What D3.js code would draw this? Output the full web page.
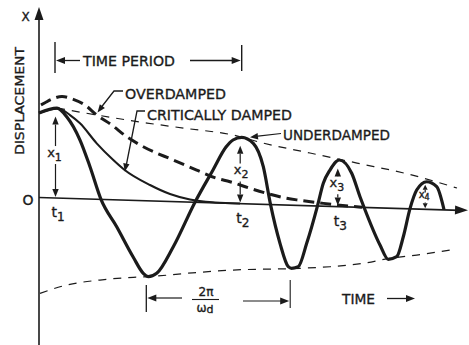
<!DOCTYPE html>
<html>
<head>
<meta charset="utf-8">
<script src="https://cdn.jsdelivr.net/npm/d3@7"></script>
<style>
  html, body { margin: 0; background: #fff; }
  svg { display: block; }
  text { font-family: "DejaVu Sans", "Liberation Sans", sans-serif; fill: #1b1b1b; stroke: #1b1b1b; stroke-width: 0.35; }
</style>
</head>
<body>
<script>
// ---- response curves: time (arbitrary units) and displacement ----
const underT = [0, 1.8, 2.77, 4.1, 5.1, 6.2, 7.77, 9.4, 10.43, 10.93, 11.77, 13.43, 15.6, 17.4, 18.7, 19.4, 20.27, 21.43, 22.43, 23.15, 24.1, 24.93, 25.27, 25.93, 26.77, 27.85, 28.43, 29.1, 30.03, 31.27, 32.1, 32.5, 34.1, 34.93, 35.77, 36.43, 37.1, 37.77, 38.77, 39.77, 40.5];
const underX = [8.45, 9.0, 8.16, 5.87, 3.23, 0, -2.69, -5.64, -7.27, -7.59, -7.23, -4.52, 0, 3.27, 5.6, 6.33, 6.63, 6.06, 3.75, 0, -3.86, -6.17, -6.32, -6.14, -3.78, 0, 2.27, 3.62, 4.65, 3.36, 1.04, 0, -3.73, -5.13, -4.85, -2.83, 0, 1.88, 2.74, 2.27, 0];

const critT = [0, 1.9, 3.1, 4.1, 5.77, 7.43, 8.5, 11.1, 13.1, 15.1, 17.6, 20.1];
const critX = [8.45, 8.96, 8.34, 7.54, 5.59, 3.97, 3.06, 1.58, 0.74, 0.25, 0.03, 0];

const overT = [0.2, 0.6, 1.27, 2.3, 3.43, 4.6, 5.77, 7.27, 8.77, 10.43, 13.43, 15.77, 17.77, 19.1, 21.1, 22.77, 24.77, 26.1, 28.1, 30.1, 32.3];
const overX = [9.26, 9.49, 9.86, 10.17, 9.92, 9.39, 8.42, 7.47, 6.34, 5.39, 4.15, 3.22, 2.45, 2.15, 1.55, 1.1, 0.66, 0.5, 0.3, 0.12, 0];

// decay envelopes
const upT = [1.8, 5.8, 10.8, 14.8, 19.4, 22.4, 27.1, 31.8, 37.1, 41.8];
const upX = [9.0, 8.42, 7.77, 7.34, 6.83, 6.12, 5.26, 4.4, 3.41, 2.2];
const lowT = [0.1, 2.77, 6.1, 9.43, 10.9, 14.77, 19.43, 25.27, 29.1, 32.43, 35.1, 37.77, 41.1];
const lowX = [-9.58, -8.67, -8.07, -7.7, -7.59, -7.14, -6.67, -6.35, -6.05, -5.61, -5.03, -4.62, -4.02];

// text
const curveLabels = ["OVERDAMPED", "CRITICALLY DAMPED", "UNDERDAMPED"];
const axisLabels = { y: "DISPLACEMENT", yVar: "X", origin: "O", time: "TIME", period: "TIME PERIOD" };

// ---- layout ----
const W = 469, H = 345;
const ink = "#1b1b1b";
const xScale = d3.scaleLinear().domain([0, 43]).range([39, 469]);
const yScale = d3.scaleLinear().domain([0, 10]).range([197.5, 97.5]);
const drift = 0.03;               // time axis runs slightly downhill
const X = t => xScale(t);
const Y = (t, v) => yScale(v) + drift * (xScale(t) - xScale(0));

const svg = d3.select("body").append("svg").attr("width", W).attr("height", H);

const zip = (ts, vs) => ts.map((t, i) => ({ t, v: vs[i] }));
const line = d3.line().x(d => X(d.t)).y(d => Y(d.t, d.v)).curve(d3.curveMonotoneX);

function head(g, x1, y1, x2, y2, len = 9, half = 3.5) {
  const a = Math.atan2(y2 - y1, x2 - x1);
  const bx = x2 - len * Math.cos(a), by = y2 - len * Math.sin(a);
  const px = -Math.sin(a) * half, py = Math.cos(a) * half;
  g.append("path")
    .attr("d", `M${x2},${y2}L${bx + px},${by + py}L${bx - px},${by - py}Z`)
    .attr("fill", ink);
}
function seg(g, x1, y1, x2, y2, w = 1.3) {
  g.append("line").attr("x1", x1).attr("y1", y1).attr("x2", x2).attr("y2", y2)
    .attr("stroke", ink).attr("stroke-width", w);
}

// envelopes
[zip(upT, upX), zip(lowT, lowX)].forEach(d => {
  svg.append("path").attr("d", line(d)).attr("fill", "none")
    .attr("stroke", ink).attr("stroke-width", 1.2).attr("stroke-dasharray", "8,7");
});

// axes
const axes = svg.append("g");
seg(axes, X(0), H, X(0), 18, 1.6);
head(axes, X(0), 30, X(0), 7, 13, 4.5);
const tEnd = 42.9;
seg(axes, X(0), Y(0, 0), X(tEnd) - 8, Y(tEnd, 0), 1.6);
head(axes, X(0), Y(0, 0), X(tEnd), Y(tEnd, 0), 13, 4.5);

// response curves
svg.append("path").attr("d", line(zip(overT, overX))).attr("fill", "none")
  .attr("stroke", ink).attr("stroke-width", 3).attr("stroke-dasharray", "11,6");
svg.append("path").attr("d", line(zip(critT, critX))).attr("fill", "none")
  .attr("stroke", ink).attr("stroke-width", 2.1);
svg.append("path").attr("d", line(zip(underT, underX))).attr("fill", "none")
  .attr("stroke", ink).attr("stroke-width", 3.2).attr("stroke-linejoin", "round");

// extrema of the underdamped response
const under = zip(underT, underX);
const peaks = under.filter((d, i) => i > 0 && i < under.length - 1 && d.v > 0 && d.v >= under[i - 1].v && d.v >= under[i + 1].v);
const troughs = under.filter((d, i) => i > 0 && i < under.length - 1 && d.v < 0 && d.v <= under[i - 1].v && d.v <= under[i + 1].v);

const ann = svg.append("g");

// amplitude markers x1..x4 and times t1..t3
peaks.forEach((p, i) => {
  const x = X(p.t) - 1.5;
  const top = Y(p.t, p.v), zero = Y(p.t, 0);
  const small = i === peaks.length - 1;
  const tip = top + (small ? 3 : 8.5);
  const mid = (top + zero) / 2 + 2;
  const fs = small ? 10 : 13;
  const gap = small ? 5 : 9;
  const hl = small ? 5 : 8, hw = small ? 2.5 : 3.2;
  seg(ann, x, tip + hl, x, mid - gap, 1.2);
  head(ann, x, mid, x, tip, hl, hw);
  seg(ann, x, mid + gap, x, zero - 1 - hl, 1.2);
  head(ann, x, mid, x, zero - 1, hl, hw);
  const lab = ann.append("text").attr("x", x + (i === 1 ? 1 : -1)).attr("y", mid + (small ? 1 : 2))
    .attr("text-anchor", "middle").attr("font-size", fs);
  lab.append("tspan").text("x");
  lab.append("tspan").attr("dy", small ? 2 : 4).attr("font-size", fs - 2).text(i + 1);
  if (i < 3) {
    const t = ann.append("text").attr("x", x - 4).attr("y", zero + 19).attr("font-size", 14);
    t.append("tspan").text("t");
    t.append("tspan").attr("dy", 4).attr("font-size", 12).text(i + 1);
  }
});

// time period between first two peaks
{
  const xa = X(peaks[0].t) - 2, xb = X(peaks[1].t);
  const y = 60.5;
  seg(ann, xa, 42, xa, 73, 1.4);
  seg(ann, xb, 45, xb, 71, 1.4);
  seg(ann, xa + 6, y, 80, y, 1.3);
  head(ann, 80, y, xa + 1, y, 9, 3.5);
  seg(ann, 190, y, xb - 7, y, 1.3);
  head(ann, 190, y, xb - 1, y, 9, 3.5);
  ann.append("text").attr("x", 83).attr("y", 65.5).attr("font-size", 14.5)
    .attr("textLength", 92).attr("lengthAdjust", "spacingAndGlyphs").text(axisLabels.period);
}

// damped period 2π/ωd between first two troughs
{
  const xa = X(troughs[0].t) - 2, xb = X(troughs[1].t) - 1.5;
  seg(ann, xa, 285, xa, 312, 1.3);
  seg(ann, xb, 280, xb, 308, 1.1);
  seg(ann, xa + 6, 298, 182, 298, 1.2);
  head(ann, 182, 298, xa + 1, 298, 9, 3.5);
  seg(ann, 243, 301, xb - 7, 301, 1.2);
  head(ann, 243, 301, xb - 1, 301, 9, 3.5);
  ann.append("text").attr("x", 206).attr("y", 296).attr("text-anchor", "middle")
    .attr("font-size", 12).text("2π");
  seg(ann, 192, 299.5, 219, 299.5, 1.1);
  const den = ann.append("text").attr("x", 205).attr("y", 311.5).attr("text-anchor", "middle").attr("font-size", 12);
  den.append("tspan").text("ω");
  den.append("tspan").attr("dy", 1).attr("font-size", 11).text("d");
}

// curve labels with leaders
ann.append("text").attr("x", 125).attr("y", 98.5).attr("font-size", 14.5)
  .attr("textLength", 101).attr("lengthAdjust", "spacingAndGlyphs").text(curveLabels[0]);
ann.append("path").attr("d", "M123,91L114,91L101.5,107").attr("fill", "none").attr("stroke", ink).attr("stroke-width", 1.3);
head(ann, 114, 91, 97.5, 112.5, 8, 3.2);

ann.append("text").attr("x", 147).attr("y", 120).attr("font-size", 14.5)
  .attr("textLength", 145).attr("lengthAdjust", "spacingAndGlyphs").text(curveLabels[1]);
ann.append("path").attr("d", "M145,111L137,111L126.5,164").attr("fill", "none").attr("stroke", ink).attr("stroke-width", 1.3);
head(ann, 137, 111, 124.8, 171.5, 8, 3.2);

ann.append("text").attr("x", 283).attr("y", 140).attr("font-size", 14.5)
  .attr("textLength", 107).attr("lengthAdjust", "spacingAndGlyphs").text(curveLabels[2]);
seg(ann, 281, 133.5, 258, 136.2, 1.2);
head(ann, 281, 133.5, 250, 137.2, 8, 3.2);

// axis labels
svg.append("text").attr("transform", "translate(24,101) rotate(-90)")
  .attr("text-anchor", "middle").attr("font-size", 12.5)
  .attr("textLength", 108).attr("lengthAdjust", "spacingAndGlyphs").text(axisLabels.y);
svg.append("text").attr("x", 25.5).attr("y", 20.5).attr("text-anchor", "middle")
  .attr("font-size", 12).text(axisLabels.yVar);
svg.append("text").attr("x", 28).attr("y", 205).attr("text-anchor", "middle")
  .attr("font-size", 14).text(axisLabels.origin);
svg.append("text").attr("x", 342).attr("y", 303.5).attr("font-size", 14.5)
  .attr("textLength", 33).attr("lengthAdjust", "spacingAndGlyphs").text(axisLabels.time);
seg(svg, 387, 298.5, 408, 298.5, 1.3);
head(svg, 387, 298.5, 415, 298.5, 9, 3.5);
</script>
</body>
</html>
